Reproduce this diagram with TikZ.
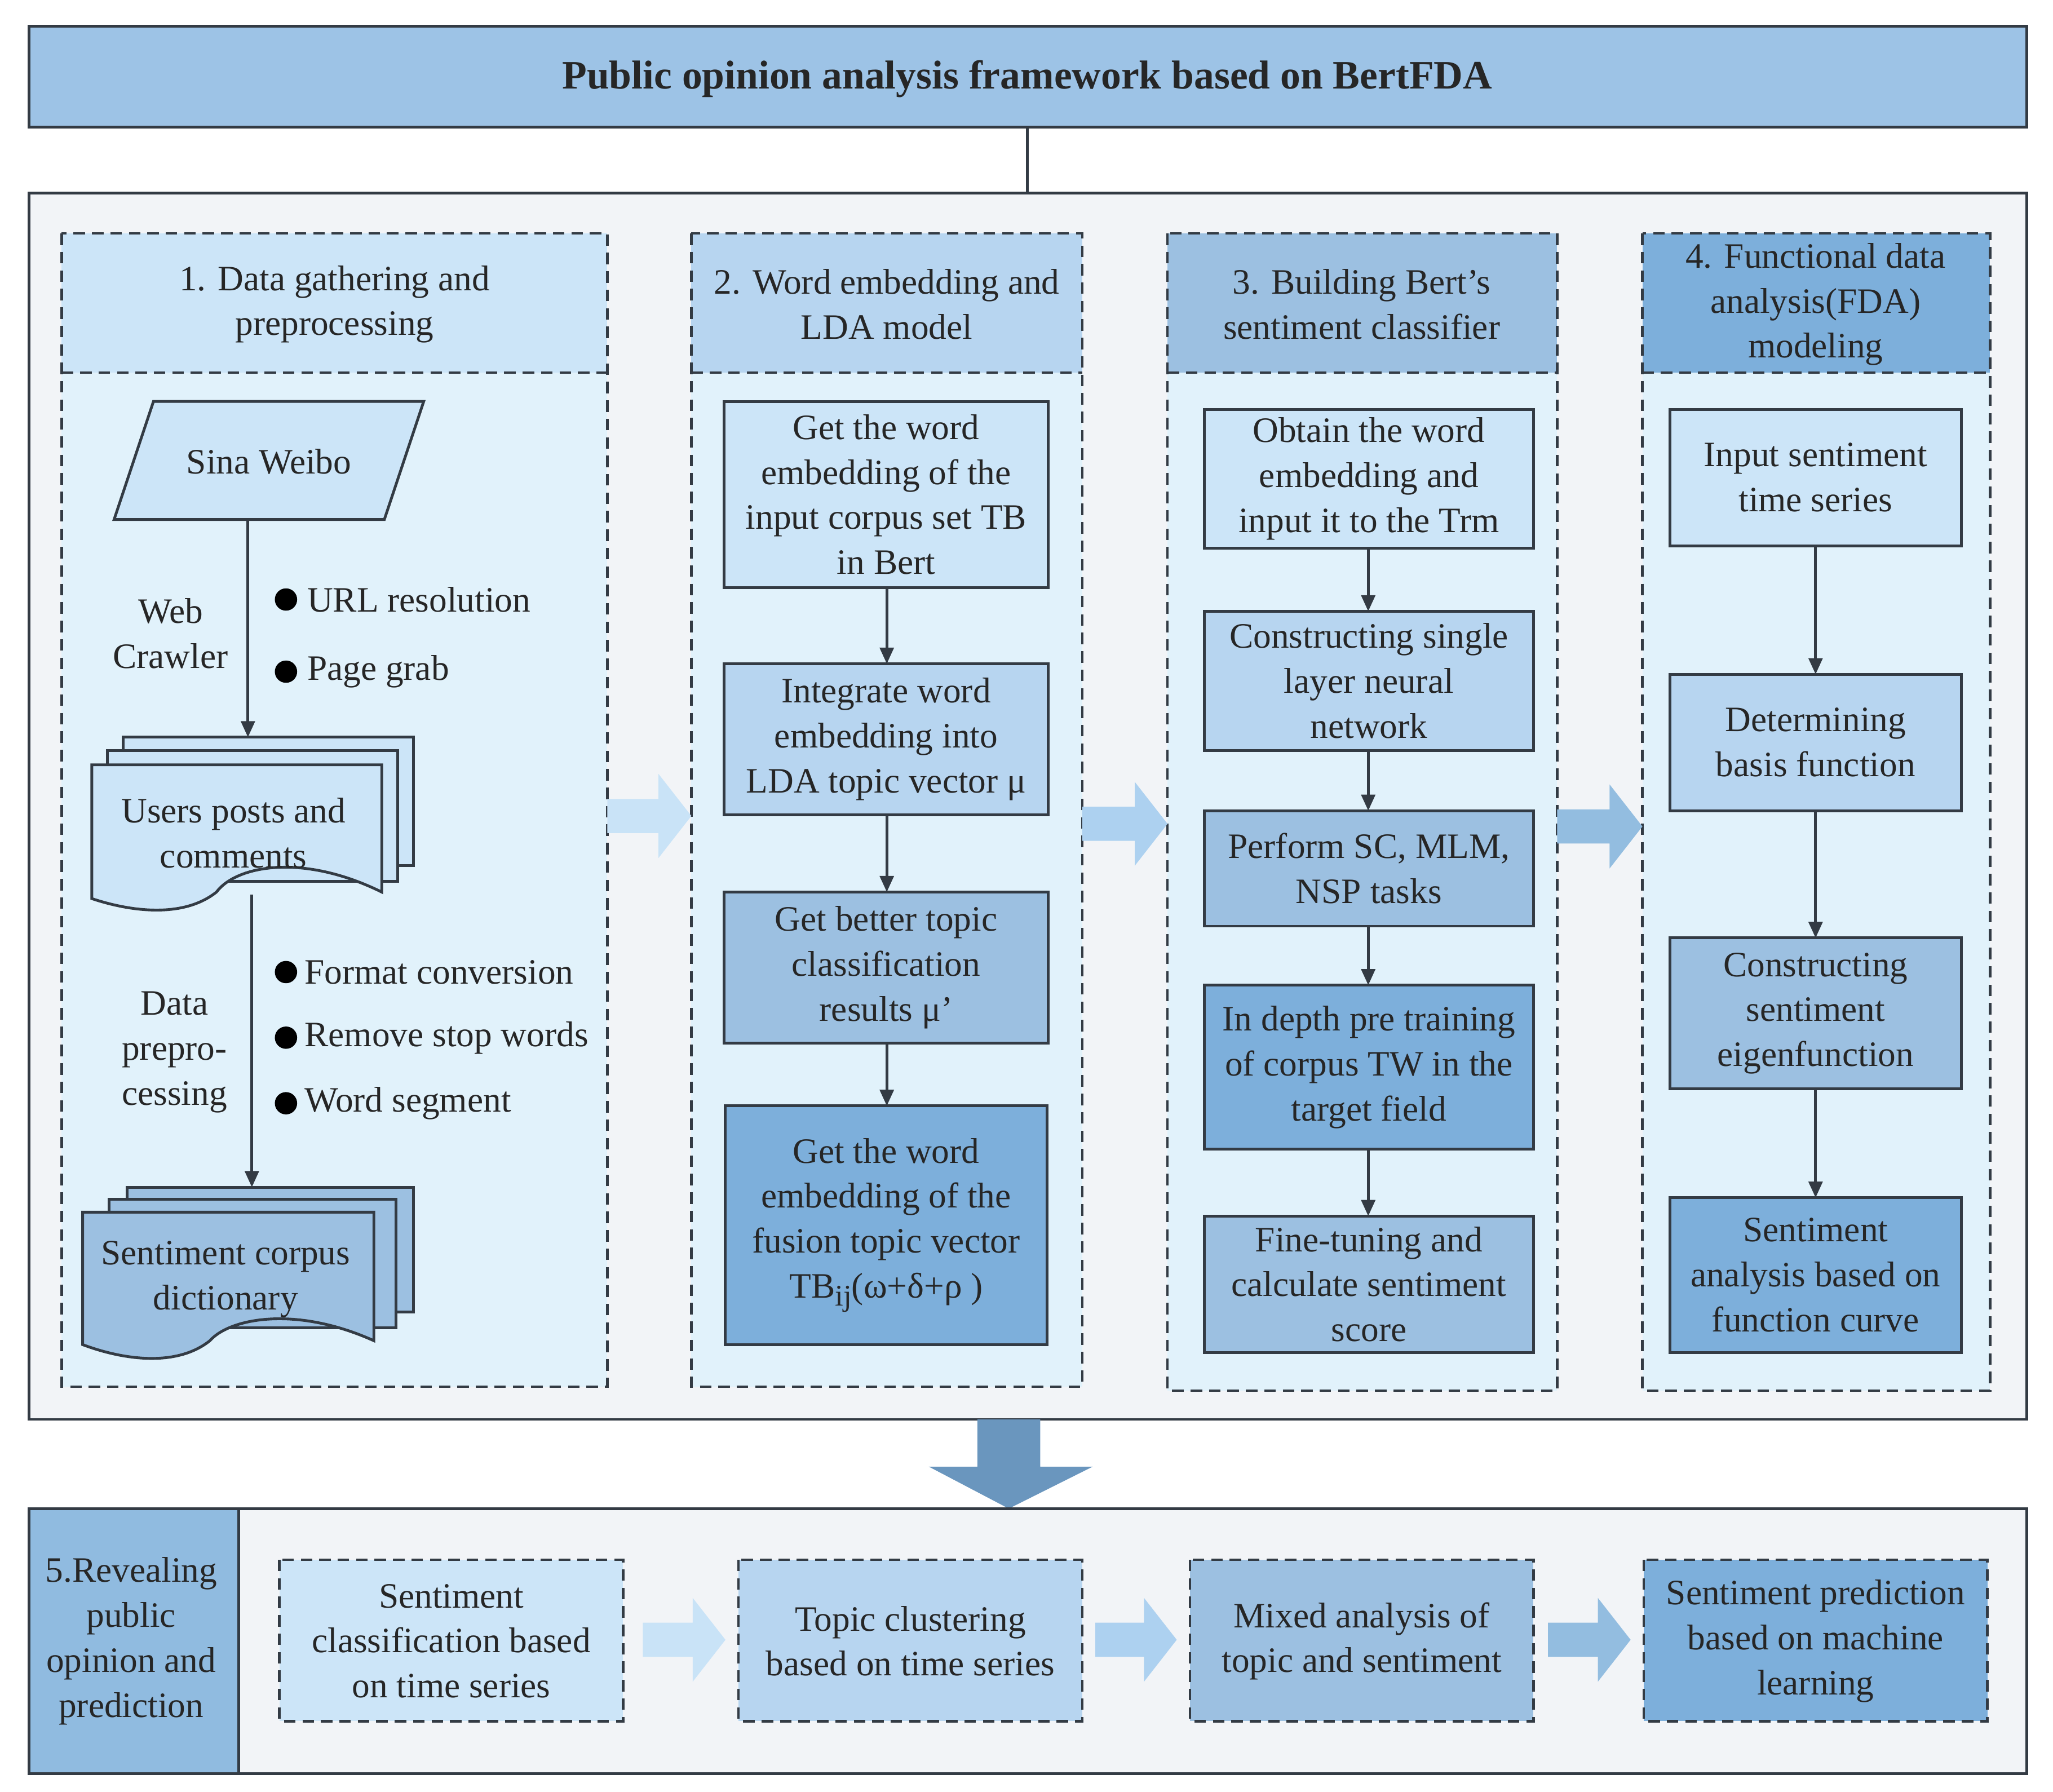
\documentclass[tikz,border=0pt]{standalone}
\usepackage{fontspec}
\setmainfont{Liberation Serif}
\usetikzlibrary{shapes.geometric,arrows.meta}
\definecolor{titlec}{HTML}{9DC3E6}
\definecolor{outerc}{HTML}{F2F4F7}
\definecolor{colbg}{HTML}{E1F2FB}
\definecolor{cA}{HTML}{CCE5F8}
\definecolor{cB}{HTML}{B7D5F0}
\definecolor{cC}{HTML}{9CC0E1}
\definecolor{cD}{HTML}{7DAFDB}
\definecolor{arA}{HTML}{C9E3F7}
\definecolor{arB}{HTML}{ADD1F0}
\definecolor{arC}{HTML}{93BDE0}
\definecolor{downc}{HTML}{6A96BE}
\definecolor{linec}{HTML}{333B44}
\tikzset{
  txt/.style={font=\fontsize{15.5}{19.5}\selectfont,align=center,text=black!85},
  box/.style={draw=linec,line width=1.2pt},
  dbox/.style={draw=linec,line width=1.1pt,dash pattern=on 5pt off 3pt},
  arr/.style={draw=linec,line width=1.2pt,-{Triangle[length=7pt,width=6pt]}},
}
\newcommand{\fatarr}[4]{\fill[#4] (#1,#3-13)--(#2-25,#3-13)--(#2-25,#3-32)--(#2,#3)--(#2-25,#3+32)--(#2-25,#3+13)--(#1,#3+13)--cycle;}
\newcommand{\bx}[6]{\draw[box,fill=#5] (#1,#2) rectangle (#3,#4); \node[txt,text width=(#3-#1)*0.02cm-6pt] (#6) at ({(#1+#3)/2},{(#2+#4)/2}) {};}
\begin{document}
\begin{tikzpicture}[x=0.02cm,y=-0.02cm]
\useasboundingbox (0,0) rectangle (1565,1366);
% title
\draw[box,fill=titlec] (22,20) rectangle (1545,97);
\node[txt,font=\fontsize{17.5}{21}\selectfont\bfseries] (title) at (783,60) {Public opinion analysis framework based on BertFDA};
\coordinate (tb) at (783,97); \coordinate (ot) at (783,147);
\draw[box] (tb)--(ot);
\draw[box,fill=outerc] (22,147) rectangle (1545,1082);
% columns
\foreach \xa/\xb/\yb/\hc in {47/463/1057/cA,527/825/1057/cB,890/1187/1060/cC,1252/1517/1060/cD}{
  \fill[colbg] (\xa,178) rectangle (\xb,\yb);
  \fill[\hc] (\xa,178) rectangle (\xb,284);
  \draw[dbox] (\xa,178) rectangle (\xb,\yb);
  \draw[dbox] (\xa,284)--(\xb,284);
}
\node[txt] (h1) at (255,232) {1. Data gathering and\\preprocessing};
\node[txt] (h2) at (676,232) {2. Word embedding and\\LDA model};
\node[txt] (h3) at (1038,232) {3. Building Bert's\\sentiment classifier};
\node[txt] (h4) at (1384,232) {4. Functional data\\analysis(FDA)\\modeling};
% column 1
\draw[box,fill=cA] (117,306)--(323,306)--(293,396)--(87,396)--cycle;
\node[txt] (sina) at (205,352) {Sina Weibo};
% multidoc 1
\draw[box,fill=cA] (94,562) rectangle (315,660);
\draw[box,fill=cA] (82,572) rectangle (303,672);
\draw[box,fill=cA] (70,583)--(291,583)--(291,680) .. controls (230,650) and (180,660) .. (165,680) .. controls (140,700) and (100,695) .. (70,685)--cycle;
\node[txt] (users) at (178,635) {Users posts and\\comments};
\draw[arr] (189,396)--(189,562);
\node[txt] (wc) at (130,483) {Web\\Crawler};
\foreach \yy/\t in {457/URL resolution,512/Page grab}{\fill (218,\yy) circle (8.5); \node[txt,anchor=west] at (228,\yy) {\t};}
% multidoc 2
\draw[box,fill=cC] (97,905) rectangle (315,1000);
\draw[box,fill=cC] (83,914) rectangle (302,1012);
\draw[box,fill=cC] (63,924)--(285,924)--(285,1022) .. controls (225,995) and (175,1005) .. (160,1022) .. controls (135,1042) and (95,1037) .. (63,1025)--cycle;
\node[txt] (corpus) at (172,975) {Sentiment corpus\\dictionary};
\coordinate (u1) at (192,682); \coordinate (u2) at (192,905);
\draw[arr] (u1)--(u2);
\node[txt] (dp) at (133,802) {Data\\prepro-\\cessing};
\foreach \yy/\t in {741/Format conversion,791/Remove stop words,841/Word segment}{\fill (218,\yy) circle (8.5); \node[txt,anchor=west] at (226,\yy) {\t};}
% column 2
\bx{552}{306}{799}{448}{cA}{b21}\node[txt] at (b21) {Get the word\\embedding of the\\input corpus set TB\\in Bert};
\bx{552}{506}{799}{621}{cB}{b22}\node[txt] at (b22) {Integrate word\\embedding into\\LDA topic vector μ};
\bx{552}{680}{799}{795}{cC}{b23}\node[txt] at (b23) {Get better topic\\classification\\results μ'};
\bx{553}{843}{798}{1025}{cD}{b24}\node[txt] at (b24) {Get the word\\embedding of the\\fusion topic vector\\TB\raisebox{-0.5ex}{\fontsize{13}{13}\selectfont ij}(ω+δ+ρ )};
\draw[arr] (676,448)--(676,506); \draw[arr] (676,621)--(676,680); \draw[arr] (676,795)--(676,843);
% column 3
\bx{918}{312}{1169}{418}{cA}{b31}\node[txt] at (b31) {Obtain the word\\embedding and\\input it to the Trm};
\bx{918}{466}{1169}{572}{cB}{b32}\node[txt] at (b32) {Constructing single\\layer neural\\network};
\bx{918}{618}{1169}{706}{cC}{b33}\node[txt] at (b33) {Perform SC, MLM,\\NSP tasks};
\bx{918}{751}{1169}{876}{cD}{b34}\node[txt] at (b34) {In depth pre training\\of corpus TW in the\\target field};
\bx{918}{927}{1169}{1031}{cC}{b35}\node[txt] at (b35) {Fine-tuning and\\calculate sentiment\\score};
\draw[arr] (1043,418)--(1043,466); \draw[arr] (1043,572)--(1043,618); \draw[arr] (1043,706)--(1043,751); \draw[arr] (1043,876)--(1043,927);
% column 4
\bx{1273}{312}{1495}{416}{cA}{b41}\node[txt] at (b41) {Input sentiment\\time series};
\bx{1273}{514}{1495}{618}{cB}{b42}\node[txt] at (b42) {Determining\\basis function};
\bx{1273}{715}{1495}{830}{cC}{b43}\node[txt] at (b43) {Constructing\\sentiment\\eigenfunction};
\bx{1273}{913}{1495}{1031}{cD}{b44}\node[txt] at (b44) {Sentiment\\analysis based on\\function curve};
\draw[arr] (1384,416)--(1384,514); \draw[arr] (1384,618)--(1384,715); \draw[arr] (1384,830)--(1384,913);
% fat arrows
\fatarr{463}{527}{622}{arA}
\fatarr{825}{890}{628}{arB}
\fatarr{1187}{1252}{630}{arC}
% down arrow
\fill[downc] (745,1082)--(793,1082)--(793,1118)--(833,1118)--(769,1150)--(708,1118)--(745,1118)--cycle;
% bottom
\draw[box,fill=outerc] (22,1150) rectangle (1545,1352);
\draw[box,fill=cD!85] (22,1150) rectangle (182,1352);
\node[txt] (b5) at (100,1251) {5.Revealing\\public\\opinion and\\prediction};
\foreach \xa/\xb/\c/\n in {213/475/cA/p1,563/825/cB/p2,907/1169/cC/p3,1253/1515/cD/p4}{
  \draw[dbox,fill=\c] (\xa,1189) rectangle (\xb,1312);
  \node[txt] (\n) at ({(\xa+\xb)/2},1251) {};
}
\node[txt] at (p1) {Sentiment\\classification based\\on time series};
\node[txt] at (p2) {Topic clustering\\based on time series};
\node[txt] at (p3) {Mixed analysis of\\topic and sentiment};
\node[txt] at (p4) {Sentiment prediction\\based on machine\\learning};
\fatarr{490}{553}{1250}{arA}
\fatarr{835}{897}{1250}{arB}
\fatarr{1180}{1243}{1250}{arC}
\end{tikzpicture}
\end{document}
